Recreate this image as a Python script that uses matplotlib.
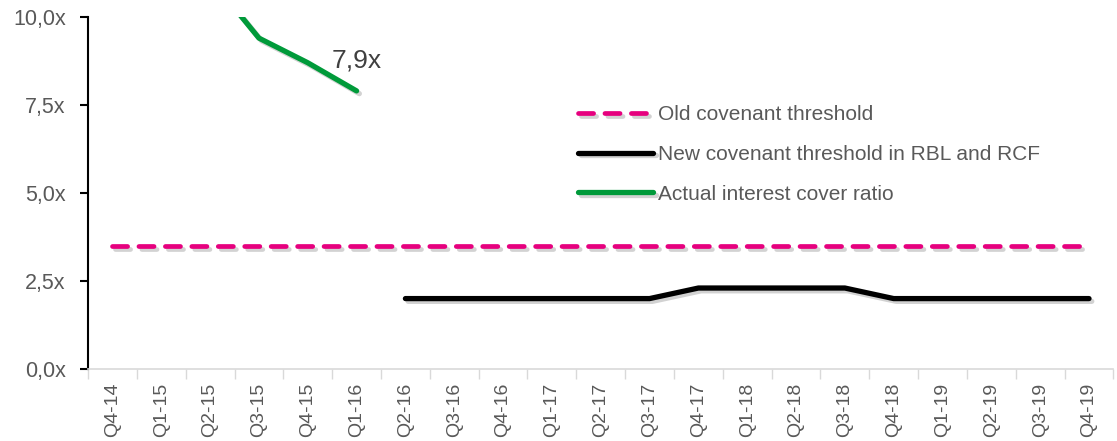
import matplotlib.pyplot as plt
import matplotlib.patheffects as pe
import numpy as np

plt.rcParams['font.family'] = ['Liberation Sans', 'DejaVu Sans']

# dati
trimestri = ["Q4-14", "Q1-15", "Q2-15", "Q3-15", "Q4-15", "Q1-16", "Q2-16", "Q3-16",
             "Q4-16", "Q1-17", "Q2-17", "Q3-17", "Q4-17", "Q1-18", "Q2-18", "Q3-18",
             "Q4-18", "Q1-19", "Q2-19", "Q3-19", "Q4-19"]
vecchia_soglia = [3.5] * 21
nuova_soglia = [np.nan] * 6 + [2.0, 2.0, 2.0, 2.0, 2.0, 2.0, 2.3, 2.3, 2.3, 2.3,
                               2.0, 2.0, 2.0, 2.0, 2.0]
icr_attuale = [13.5, 12.3, 11.1, 9.4, 8.7, 7.9] + [np.nan] * 15

etichette_y = ["0,0x", "2,5x", "5,0x", "7,5x", "10,0x"]

grigio = "#595959"
ombra = [pe.SimpleLineShadow(offset=(2, -2), shadow_color="gray", alpha=0.35), pe.Normal()]

fig = plt.figure(figsize=(11.17, 4.41), dpi=100)
ax = fig.add_axes([0.0788, 0.1633, 0.918, 0.7982])

x = np.arange(len(trimestri))
ax.plot(x, vecchia_soglia, color="#E6007E", linewidth=3.4, linestyle=(0, (3.2, 2.4)),
        dash_capstyle="round", label="Old covenant threshold", path_effects=ombra)
ax.plot(x, nuova_soglia, color="black", linewidth=3.8, solid_capstyle="round",
        label="New covenant threshold in RBL and RCF", path_effects=ombra)
ax.plot(x, icr_attuale, color="#009A3A", linewidth=3.8, solid_capstyle="round",
        label="Actual interest cover ratio", path_effects=ombra)

ax.annotate("7,9x", xy=(5, icr_attuale[5]), xytext=(0, 22), textcoords="offset points",
            ha="center", va="center", fontsize=19, color="#404040")

ax.set_xlim(-0.5, 20.5)
ax.set_ylim(0, 10)
ax.set_yticks([0, 2.5, 5, 7.5, 10])
ax.set_yticklabels(etichette_y)
ax.set_xticks(x)
ax.set_xticklabels(trimestri, rotation=90)
ax.set_xticks(np.arange(-0.5, 21, 1), minor=True)

ax.tick_params(axis="x", which="major", length=0, pad=10, labelsize=14, labelcolor=grigio)
ax.tick_params(axis="x", which="minor", length=7, color="#D9D9D9", width=1)
ax.tick_params(axis="y", length=6, width=1.5, color="black", pad=10, labelsize=15.5,
               labelcolor=grigio)

for lato in ["top", "right"]:
    ax.spines[lato].set_visible(False)
ax.spines["bottom"].set_color("#D9D9D9")
ax.spines["bottom"].set_linewidth(1.2)
ax.spines["left"].set_linewidth(1.5)

leg = ax.legend(loc="upper left", bbox_to_anchor=(0.46, 0.803), frameon=False, fontsize=15,
                handlelength=3.6, handletextpad=0.2, labelspacing=1.0, labelcolor=grigio)

fig.savefig("out.png", dpi=100)
